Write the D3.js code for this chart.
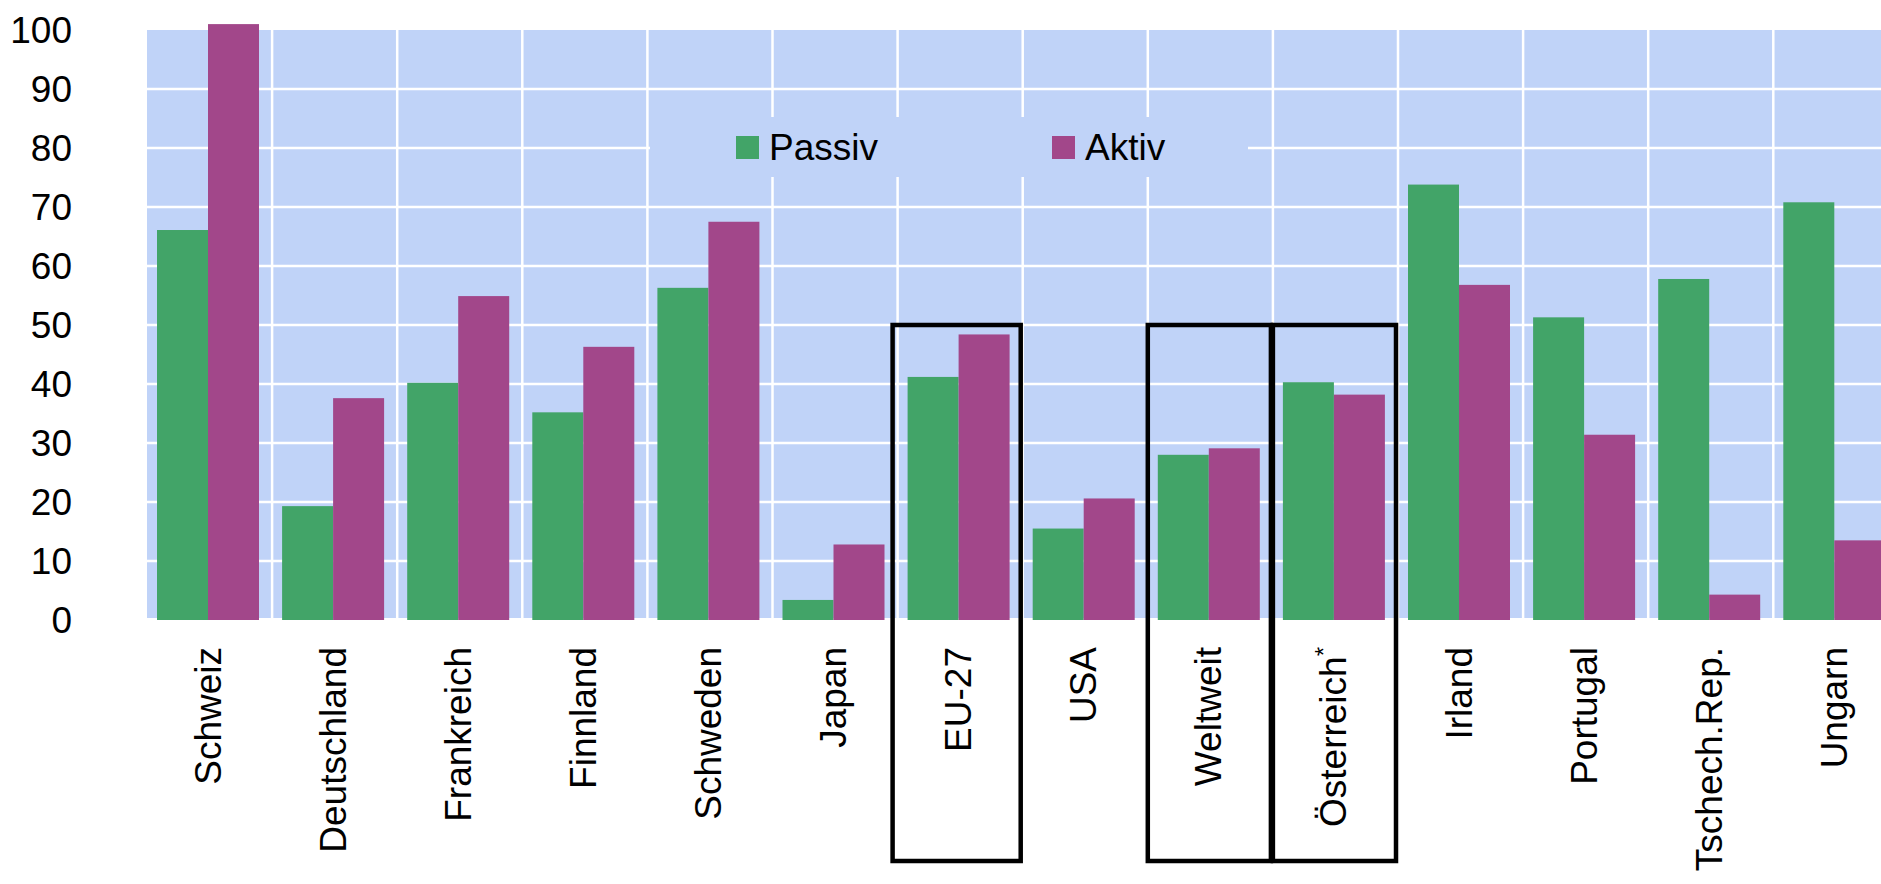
<!DOCTYPE html>
<html>
<head>
<meta charset="utf-8">
<script src="https://cdn.jsdelivr.net/npm/d3@7"></script>
<style>
  body { margin: 0; background: #fff; }
  svg { display: block; font-family: "Liberation Sans", Arial, sans-serif; }
</style>
</head>
<body>
<svg width="1881" height="884"></svg>
<script>
const categories = ["Schweiz", "Deutschland", "Frankreich", "Finnland", "Schweden", "Japan", "EU-27",
  "USA", "Weltweit", "Österreich*", "Irland", "Portugal", "Tschech.Rep.", "Ungarn"];
const passiv = [66.1, 19.3, 40.2, 35.2, 56.3, 3.4, 41.2, 15.5, 28.0, 40.3, 73.8, 51.3, 57.8, 70.8];
const aktiv = [101, 37.6, 54.9, 46.3, 67.5, 12.8, 48.4, 20.6, 29.1, 38.2, 56.8, 31.4, 4.3, 13.5];
const seriesNames = ["Passiv", "Aktiv"];
const colors = ["#42a468", "#a2478a"];
const yTicks = [0, 10, 20, 30, 40, 50, 60, 70, 80, 90, 100];
const boxed = [["EU-27"], ["Weltweit"], ["Österreich*"]];

const svg = d3.select("svg");
const plotLeft = 147, plotTop = 30, plotBottom = 620, step = 125.1;

const x = d3.scaleBand()
  .domain(categories)
  .range([plotLeft, plotLeft + step * categories.length]);
const xs = d3.scaleBand().domain(seriesNames).range([10, 112]);
const y = d3.scaleLinear().domain([0, 100]).range([plotBottom, plotTop]);

// plot area
svg.append("rect")
  .attr("x", plotLeft).attr("y", plotTop)
  .attr("width", step * categories.length).attr("height", plotBottom - plotTop - 2)
  .attr("fill", "#c0d3f8");

// grid
svg.append("g").selectAll("line")
  .data(yTicks.filter(d => d > 0 && d < 100))
  .join("line")
  .attr("x1", plotLeft).attr("x2", plotLeft + step * categories.length)
  .attr("y1", d => y(d)).attr("y2", d => y(d))
  .attr("stroke", "#fff").attr("stroke-width", 2.5);

svg.append("g").selectAll("line")
  .data(categories.slice(1))
  .join("line")
  .attr("x1", d => x(d)).attr("x2", d => x(d))
  .attr("y1", plotTop).attr("y2", plotBottom - 2)
  .attr("stroke", "#fff").attr("stroke-width", 2.5);

// legend background
const lg = svg.append("g");
lg.append("rect")
  .attr("x", 650).attr("y", 117).attr("width", 598).attr("height", 60)
  .attr("fill", "#c0d3f8");
const legendX = [736, 1052];
seriesNames.forEach((s, i) => {
  lg.append("rect")
    .attr("x", legendX[i]).attr("y", 136).attr("width", 23).attr("height", 23)
    .attr("fill", colors[i]);
  lg.append("text")
    .attr("x", legendX[i] + 33).attr("y", 147).attr("dy", "0.35em")
    .attr("font-size", 37).text(s);
});

// bars
const groups = svg.append("g").selectAll("g")
  .data(categories)
  .join("g")
  .attr("transform", d => `translate(${x(d)},0)`);

groups.selectAll("rect")
  .data((d, i) => [passiv[i], aktiv[i]].map((v, j) => ({ s: seriesNames[j], v, c: colors[j] })))
  .join("rect")
  .attr("x", d => xs(d.s))
  .attr("width", xs.bandwidth())
  .attr("y", d => y(d.v))
  .attr("height", d => y(0) - y(d.v))
  .attr("fill", d => d.c);

// y axis labels
svg.append("g").selectAll("text")
  .data(yTicks)
  .join("text")
  .attr("x", 72).attr("y", d => y(d)).attr("dy", "0.35em")
  .attr("text-anchor", "end").attr("font-size", 37)
  .text(d => d);

// x labels (asterisk as superscript)
const xl = svg.append("g").selectAll("text")
  .data(categories)
  .join("text")
  .attr("transform", d => `translate(${x(d) + step / 2 - 2},647) rotate(-90)`)
  .attr("dy", "0.35em")
  .attr("text-anchor", "end").attr("font-size", 37);
xl.append("tspan").text(d => d.replace("*", ""));
xl.filter(d => d.endsWith("*"))
  .append("tspan")
  .attr("font-size", 24).attr("dy", "-0.6em")
  .text("*");

// highlight boxes
svg.append("g").selectAll("rect")
  .data(boxed)
  .join("rect")
  .attr("x", d => x(d[0]) - (d[0] === "EU-27" ? 5 : 0))
  .attr("y", y(50))
  .attr("width", d => step + (d[0] === "EU-27" ? 5 : 0) - 2)
  .attr("height", 861 - y(50))
  .attr("fill", "none").attr("stroke", "#000").attr("stroke-width", 4.5);
</script>
</body>
</html>
